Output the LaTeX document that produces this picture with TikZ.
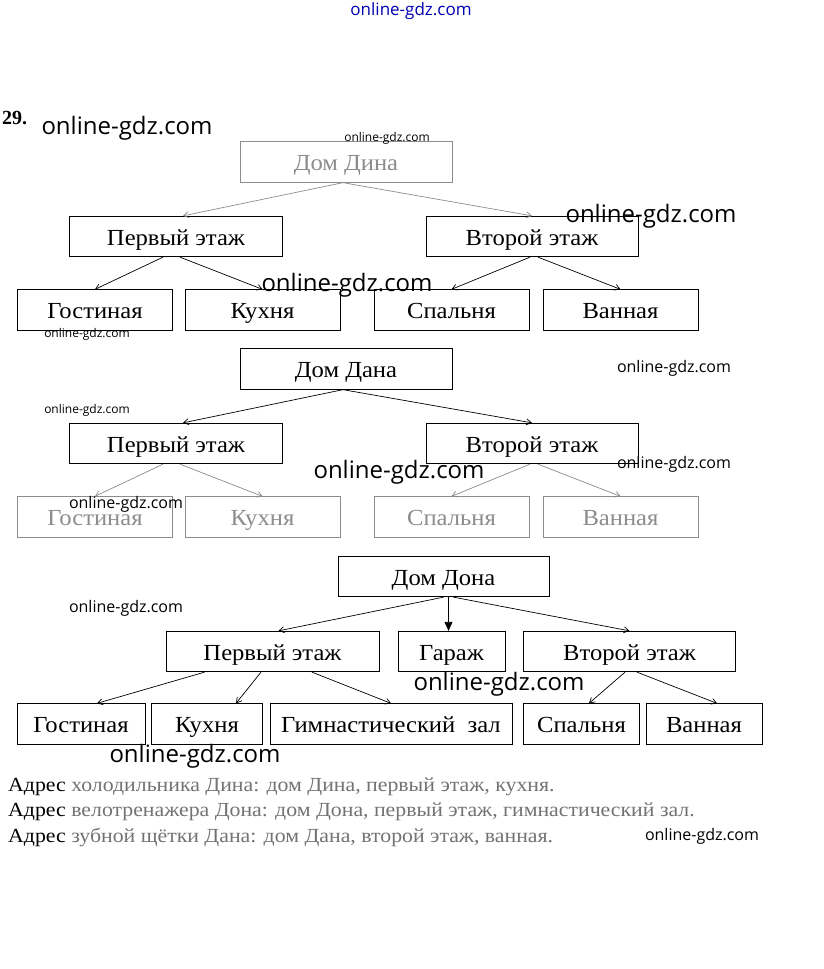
\documentclass[tikz,border=0pt]{standalone}
\usepackage{fontspec}
\setmainfont{Liberation Serif}
\newfontfamily\roomfont[FakeStretch=1.07]{Liberation Serif}
\newfontfamily\addrfont[FakeStretch=1.09]{Liberation Serif}
\newfontfamily\wmfont{Open Sans}
\usetikzlibrary{arrows.meta}

\begin{document}
\begin{tikzpicture}[x=1pt,y=-1pt,
    room/.style={draw,line width=0.8pt,inner sep=0pt,minimum height=40.5pt,text height=22pt,text depth=5pt,
      font=\roomfont\fontsize{23}{25}\selectfont},
    link/.style={line width=0.7pt,-{Straight Barb[length=5pt,width=6pt]}},
    biglink/.style={line width=0.8pt,-{Triangle[length=9pt,width=8pt]}},
    mark/.style={font=\wmfont\fontsize{#1}{#1}\selectfont},
    addr/.style={anchor=west,inner sep=0pt,text=black!55,font=\addrfont\fontsize{20}{22}\selectfont}]
  \useasboundingbox[fill=white] (0,0) rectangle (823,969);

  \foreach \y/\n/\k/\ctop/\cbot in {0/Дина/a/black!45/black,207/Дана/b/black/black!45} {
    \node[room,minimum width=212pt,draw=\ctop,text=\ctop] (\k0) at (346,162+\y) {Дом \n};
    \node[room,minimum width=213pt] (\k1) at (176,236.5+\y) {Первый этаж};
    \node[room,minimum width=212pt] (\k2) at (532,236.5+\y) {Второй этаж};
    \node[room,minimum width=155pt,draw=\cbot,text=\cbot] (\k11) at (95,310+\y) {Гостиная};
    \node[room,minimum width=155pt,draw=\cbot,text=\cbot] (\k12) at (262.5,310+\y) {Кухня};
    \node[room,minimum width=155pt,draw=\cbot,text=\cbot] (\k21) at (451.5,310+\y) {Спальня};
    \node[room,minimum width=155pt,draw=\cbot,text=\cbot] (\k22) at (620.5,310+\y) {Ванная};
    \draw[link,draw=\ctop] ([xshift=-3pt]\k0.south) -- ([xshift=7pt]\k1.north);
    \draw[link,draw=\ctop] ([xshift=-3pt]\k0.south) -- (\k2.north);
    \draw[link,draw=\cbot] ([xshift=-13pt]\k1.south) -- (\k11.north);
    \draw[link,draw=\cbot] ([xshift=4pt]\k1.south) -- (\k12.north);
    \draw[link,draw=\cbot] ([xshift=-2pt]\k2.south) -- (\k21.north);
    \draw[link,draw=\cbot] ([xshift=6pt]\k2.south) -- (\k22.north);
  }

  \node[room,minimum width=211pt] (c0) at (443.5,576.5) {Дом Дона};
  \node[room,minimum width=213pt] (c1) at (272.5,651.5) {Первый этаж};
  \node[room,minimum width=107pt] (cg) at (451.5,651.5) {Гараж};
  \node[room,minimum width=212pt] (c2) at (629.5,651.5) {Второй этаж};
  \node[room,minimum width=128pt] (c11) at (81,724) {Гостиная};
  \node[room,minimum width=111pt] (c12) at (207,724) {Кухня};
  \node[room,minimum width=242pt] (c13) at (391,724) {Гимнастический~~зал};
  \node[room,minimum width=116pt] (c21) at (581.5,724) {Спальня};
  \node[room,minimum width=116pt] (c22) at (704,724) {Ванная};
  \draw[link] (c0.south) -- ([xshift=6pt]c1.north);
  \draw[biglink] ([xshift=-3pt]cg.north |- c0.south) -- ([xshift=-3pt]cg.north);
  \draw[link] ([xshift=10pt]c0.south) -- (c2.north);
  \draw[link] ([xshift=-68pt]c1.south) -- ([xshift=16pt]c11.north);
  \draw[link] ([xshift=-11.5pt]c1.south) -- ([xshift=29pt]c12.north);
  \draw[link] ([xshift=39.5pt]c1.south) -- (c13.north);
  \draw[link] ([xshift=-4.5pt]c2.south) -- ([xshift=7.5pt]c21.north);
  \draw[link] ([xshift=7.5pt]c2.south) -- ([xshift=13pt]c22.north);

  \node[anchor=west,inner sep=0pt,font=\bfseries\fontsize{20}{22}\selectfont] (num) at (2,118) {29.};
  \node[addr] (l1) at (8,787) {\textcolor{black}{Адрес} холодильника Дина: дом Дина, первый этаж, кухня.};
  \node[addr] (l2) at (8,812) {\textcolor{black}{Адрес} велотренажера Дона: дом Дона, первый этаж, гимнастический зал.};
  \node[addr] (l3) at (8,837) {\textcolor{black}{Адрес} зубной щётки Дана: дом Дана, второй этаж, ванная.};

  \node[mark=17,text=blue!70!black] (w0) at (411,11) {online-gdz.com};
  \foreach \px/\py/\s in {127/128/24,651/216/24,347/285/24,399/472/24,499/684/24,195/756/24,
      674/368/16,674/464/16,126/504/16,126/608/16,702/836/16,387/138/12,87/334/12,87/410/12}
    \node[mark=\s] at (\px,\py) {online-gdz.com};
\end{tikzpicture}
\end{document}
